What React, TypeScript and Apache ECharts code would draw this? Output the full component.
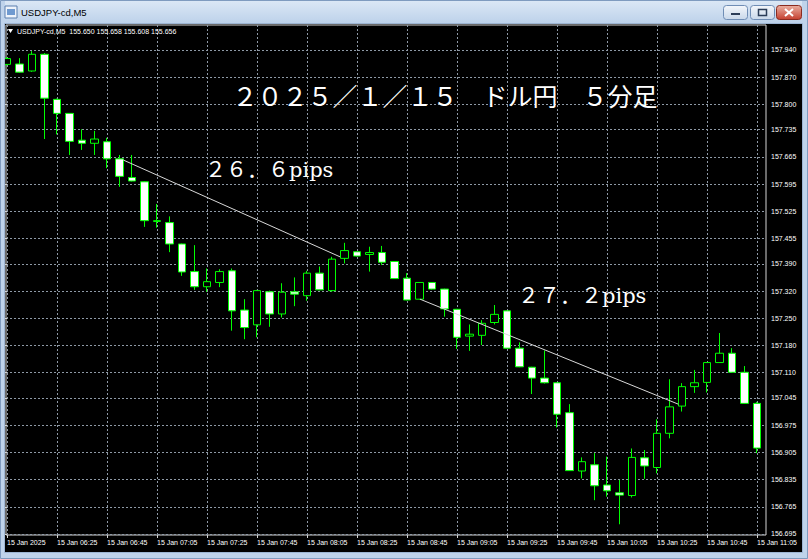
import React, { useEffect, useRef } from 'react';
import * as echarts from 'echarts';

// ---- data (USDJPY M5, 15 Jan 2025 06:05 .. 11:05) ----
const openPrices = [
  157.903, 157.904, 157.886, 157.929, 157.813, 157.777, 157.708, 157.700, 157.704, 157.660,
  157.612, 157.601, 157.499, 157.496, 157.441, 157.370, 157.331, 157.342, 157.372, 157.271,
  157.233, 157.318, 157.261, 157.318, 157.308, 157.366, 157.321, 157.404, 157.421, 157.414,
  157.419, 157.396, 157.353, 157.299, 157.342, 157.325, 157.273, 157.204, 157.206, 157.239,
  157.269, 157.173, 157.124, 157.096, 157.084, 157.007, 156.857, 156.873, 156.821, 156.801,
  156.794, 156.891, 156.866, 156.954, 157.024, 157.074, 157.085, 157.136, 157.160, 157.111,
  157.031,
];
const closePrices = [
  157.918, 157.883, 157.929, 157.816, 157.777, 157.705, 157.700, 157.711, 157.660, 157.615,
  157.603, 157.501, 157.501, 157.441, 157.369, 157.331, 157.344, 157.370, 157.269, 157.226,
  157.321, 157.261, 157.317, 157.312, 157.366, 157.323, 157.402, 157.424, 157.410, 157.419,
  157.394, 157.352, 157.297, 157.342, 157.325, 157.274, 157.201, 157.209, 157.237, 157.260,
  157.173, 157.125, 157.096, 157.084, 157.003, 156.858, 156.881, 156.819, 156.806, 156.795,
  156.892, 156.870, 156.954, 157.022, 157.074, 157.084, 157.136, 157.160, 157.111, 157.031,
  156.916,
];
const lowPrices = [
  157.900, 157.881, 157.884, 157.711, 157.723, 157.670, 157.683, 157.670, 157.636, 157.588,
  157.602, 157.485, 157.483, 157.420, 157.359, 157.323, 157.318, 157.330, 157.218, 157.196,
  157.201, 157.228, 157.252, 157.281, 157.295, 157.322, 157.318, 157.391, 157.409, 157.370,
  157.387, 157.351, 157.296, 157.298, 157.324, 157.254, 157.171, 157.166, 157.181, 157.234,
  157.172, 157.124, 157.055, 157.082, 156.969, 156.857, 156.838, 156.782, 156.791, 156.720,
  156.789, 156.837, 156.851, 156.941, 157.010, 157.058, 157.059, 157.135, 157.110, 157.030,
  156.903,
];
const highPrices = [
  157.922, 157.919, 157.937, 157.932, 157.815, 157.778, 157.736, 157.732, 157.714, 157.670,
  157.670, 157.603, 157.544, 157.512, 157.442, 157.438, 157.378, 157.376, 157.378, 157.299,
  157.323, 157.321, 157.340, 157.355, 157.372, 157.383, 157.408, 157.444, 157.422, 157.434,
  157.436, 157.397, 157.366, 157.343, 157.343, 157.326, 157.274, 157.234, 157.245, 157.284,
  157.270, 157.188, 157.125, 157.167, 157.085, 157.029, 156.892, 156.903, 156.894, 156.834,
  156.915, 156.911, 156.990, 157.093, 157.083, 157.117, 157.137, 157.212, 157.173, 157.127,
  157.035,
];

const xTickIndex = [0, 4, 8, 12, 16, 20, 24, 28, 32, 36, 40, 44, 48, 52, 56, 60];
const xTickLabels = [
  '15 Jan 2025', '15 Jan 06:25', '15 Jan 06:45', '15 Jan 07:05', '15 Jan 07:25', '15 Jan 07:45',
  '15 Jan 08:05', '15 Jan 08:25', '15 Jan 08:45', '15 Jan 09:05', '15 Jan 09:25', '15 Jan 09:45',
  '15 Jan 10:05', '15 Jan 10:25', '15 Jan 10:45', '15 Jan 11:05',
];
const yTickValues = [
  157.94, 157.87, 157.8, 157.735, 157.665, 157.595, 157.525, 157.455, 157.39, 157.32,
  157.25, 157.18, 157.11, 157.045, 156.975, 156.905, 156.835, 156.765, 156.695,
];

const trendLine1 = [[9.3, 157.657], [26.64, 157.408]];
const trendLine2 = [[33.04, 157.299], [53.7, 157.029]];

const symbolName = 'USDJPY-cd,M5';
const headerPrices = ['155.650', '155.658', '155.608', '155.656'];
const titleText = '２０２５／１／１５　ドル円　５分足';
const pipsLabel1 = '２６．６pips';
const pipsLabel2 = '２７．２pips';

export default function App() {
  const ref = useRef<HTMLDivElement>(null);

  useEffect(() => {
    if (!ref.current) return;
    const chart = echarts.init(ref.current, undefined, { renderer: 'svg' });

    const candles = openPrices.map((o, i) => [i, o, closePrices[i], lowPrices[i], highPrices[i]]);
    const gridColor = '#8e99a6';
    const labelFont = { color: '#ffffff', fontSize: 7, fontFamily: "'Liberation Sans', Arial, sans-serif" };
    const frameFill = '#bfd3eb';
    const annFont = "'DejaVu Serif', 'Noto Sans CJK JP', serif";
    const grad = (a: string, b: string) =>
      new echarts.graphic.LinearGradient(0, 0, 0, 1, [
        { offset: 0, color: a },
        { offset: 1, color: b },
      ]);

    const option: any = {
      animation: false,
      backgroundColor: '#000000',
      grid: {
        left: 6,
        top: 25,
        width: 760,
        height: 510,
        show: true,
        backgroundColor: '#000000',
        borderColor: '#d4d4d4',
        borderWidth: 1,
        containLabel: false,
        outerBoundsMode: 'none',
      },
      xAxis: {
        type: 'value',
        min: -0.08,
        max: 60.72,
        axisLine: { show: false },
        axisTick: {
          show: true,
          customValues: xTickIndex,
          length: 3,
          lineStyle: { color: '#d4d4d4' },
        },
        axisLabel: {
          ...labelFont,
          customValues: xTickIndex,
          align: 'left',
          margin: 4,
          formatter: (v: number) => {
            const k = xTickIndex.indexOf(Math.round(v));
            return k >= 0 ? xTickLabels[k] : '';
          },
        },
        splitLine: { show: true, lineStyle: { color: gridColor, width: 1, type: [2, 2] } },
      },
      yAxis: {
        type: 'value',
        position: 'right',
        min: 156.6924,
        max: 158.0043,
        axisLine: { show: false },
        axisTick: {
          show: true,
          inside: true,
          customValues: yTickValues,
          length: 3,
          lineStyle: { color: '#d4d4d4' },
        },
        axisLabel: {
          ...labelFont,
          customValues: yTickValues,
          margin: 5,
          formatter: (v: number) => v.toFixed(3),
        },
        splitLine: { show: true, lineStyle: { color: gridColor, width: 1, type: [2, 2] } },
      },
      series: [
        {
          type: 'candlestick',
          data: candles,
          encode: { x: 0, y: [1, 2, 3, 4] },
          barWidth: 8,
          silent: true,
          itemStyle: {
            color: '#000000',
            color0: '#ffffff',
            borderColor: '#00ff00',
            borderColor0: '#00ff00',
            borderColorDoji: '#00ff00',
            borderWidth: 1,
          },
        },
        {
          type: 'line',
          data: trendLine1,
          symbol: 'none',
          silent: true,
          z: 5,
          lineStyle: { color: '#d8d8d8', width: 1 },
        },
        {
          type: 'line',
          data: trendLine2,
          symbol: 'none',
          silent: true,
          z: 5,
          lineStyle: { color: '#d8d8d8', width: 1 },
        },
      ],
      graphic: [
        // window frame
        { type: 'rect', z: 100, silent: true, shape: { x: 0, y: 0, width: 808, height: 24 }, style: { fill: grad('#dce8f6', '#bcd1ea') } },
        { type: 'rect', z: 100, silent: true, shape: { x: 0, y: 0, width: 5, height: 559 }, style: { fill: frameFill } },
        { type: 'rect', z: 100, silent: true, shape: { x: 802, y: 0, width: 6, height: 559 }, style: { fill: frameFill } },
        { type: 'rect', z: 100, silent: true, shape: { x: 0, y: 552, width: 808, height: 7 }, style: { fill: frameFill } },
        { type: 'rect', z: 101, silent: true, shape: { x: 0.5, y: 0.5, width: 807, height: 558 }, style: { fill: 'none', stroke: '#7f9bbf', lineWidth: 1 } },
        { type: 'rect', z: 101, silent: true, shape: { x: 4.5, y: 23.5, width: 798, height: 529 }, style: { fill: 'none', stroke: '#9db5d3', lineWidth: 1 } },
        // icon
        { type: 'rect', z: 102, silent: true, shape: { x: 5, y: 6, width: 12, height: 12 }, style: { fill: '#eef3fa', stroke: '#5a7fae', lineWidth: 1 } },
        { type: 'rect', z: 103, silent: true, shape: { x: 7, y: 9, width: 8, height: 6 }, style: { fill: '#6f9ad0' } },
        // title
        {
          type: 'text', z: 102, silent: true,
          style: { text: symbolName, x: 21, y: 12, fill: '#000000', fontSize: 9.5, fontFamily: "'Liberation Sans', Arial, sans-serif", verticalAlign: 'middle', align: 'left' },
        },
        // buttons
        { type: 'rect', z: 102, silent: true, shape: { x: 723.5, y: 5.5, width: 24, height: 14, r: 3 }, style: { fill: grad('#f4f7fb', '#c9d8ea'), stroke: '#6f8db5', lineWidth: 1 } },
        { type: 'rect', z: 103, silent: true, shape: { x: 731, y: 13, width: 9, height: 2 }, style: { fill: '#2b3d58' } },
        { type: 'rect', z: 102, silent: true, shape: { x: 750.5, y: 5.5, width: 24, height: 14, r: 3 }, style: { fill: grad('#f4f7fb', '#c9d8ea'), stroke: '#6f8db5', lineWidth: 1 } },
        { type: 'rect', z: 103, silent: true, shape: { x: 758.5, y: 9.5, width: 8, height: 6 }, style: { fill: 'none', stroke: '#2b3d58', lineWidth: 1.5 } },
        { type: 'rect', z: 102, silent: true, shape: { x: 776.5, y: 5.5, width: 25, height: 14, r: 3 }, style: { fill: grad('#eab0a2', '#c5402f'), stroke: '#8a2b20', lineWidth: 1 } },
        { type: 'line', z: 103, silent: true, shape: { x1: 785, y1: 9, x2: 793, y2: 16 }, style: { stroke: '#ffffff', lineWidth: 2 } },
        { type: 'line', z: 103, silent: true, shape: { x1: 793, y1: 9, x2: 785, y2: 16 }, style: { stroke: '#ffffff', lineWidth: 2 } },
        // chart header
        { type: 'polygon', z: 50, silent: true, shape: { points: [[8, 29], [13, 29], [10.5, 33]] }, style: { fill: '#ffffff' } },
        {
          type: 'text', z: 50, silent: true,
          style: { text: symbolName + '  ' + headerPrices.join(' '), x: 17, y: 31, fill: '#ffffff', fontSize: 7, fontFamily: "'Liberation Sans', Arial, sans-serif", verticalAlign: 'middle', align: 'left' },
        },
        // annotations
        {
          type: 'text', z: 50, silent: true,
          style: { text: titleText, x: 232.5, y: 97, fill: '#ffffff', fontSize: 25, fontFamily: annFont, verticalAlign: 'middle', align: 'left' },
        },
        {
          type: 'text', z: 50, silent: true,
          style: { text: pipsLabel1, x: 205, y: 170, fill: '#ffffff', fontSize: 21, fontFamily: annFont, verticalAlign: 'middle', align: 'left' },
        },
        {
          type: 'text', z: 50, silent: true,
          style: { text: pipsLabel2, x: 518, y: 296, fill: '#ffffff', fontSize: 21, fontFamily: annFont, verticalAlign: 'middle', align: 'left' },
        },
      ],
    };

    chart.setOption(option);
    return () => chart.dispose();
  }, []);

  return (
    <div
      ref={ref}
      style={{ position: 'fixed', left: 0, top: 0, width: 808, height: 559 }}
    />
  );
}
